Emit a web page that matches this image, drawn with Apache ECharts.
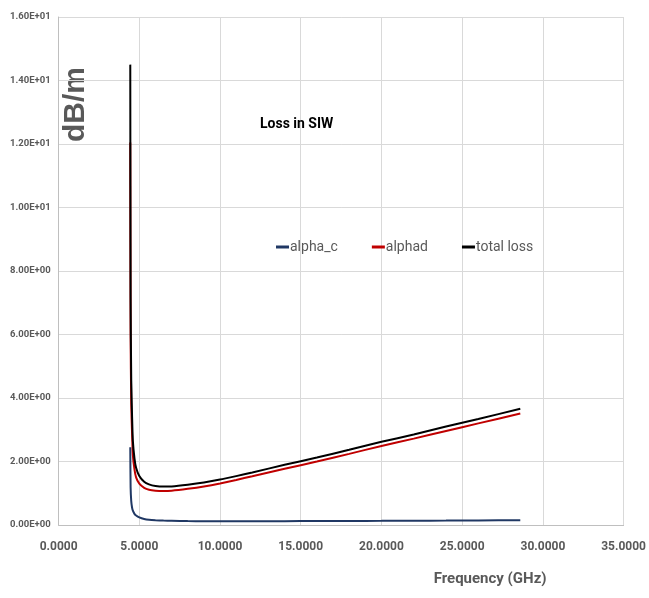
<!DOCTYPE html>
<html>
<head>
<meta charset="utf-8">
<script src="https://cdn.jsdelivr.net/npm/echarts@6/dist/echarts.min.js"></script>
<style>
html,body{margin:0;padding:0;background:#fff;overflow:hidden;}
#c{width:649px;height:598px;}
</style>
</head>
<body>
<div id="c"></div>
<script>
// Frequency points (GHz)
const freq = [4.44, 4.46, 4.5, 4.55, 4.6, 4.7, 4.8, 5.0, 5.3, 5.6, 6.0, 6.5, 7.0, 8.0, 9.0, 10.0, 11.0, 12.0, 14.0, 16.0, 18.0, 20.0, 22.0, 24.0, 26.0, 28.6];
// alpha_c (dB/m)
const alphaC = [2.45, 1.2, 0.75, 0.55, 0.45, 0.35, 0.3, 0.24, 0.19, 0.165, 0.15, 0.14, 0.135, 0.125, 0.12, 0.12, 0.12, 0.12, 0.122, 0.125, 0.128, 0.13, 0.135, 0.14, 0.145, 0.15];
// alphad (dB/m)
const alphaD = [12.05, 6.0, 3.8, 2.9, 2.2, 1.75, 1.5, 1.3, 1.17, 1.11, 1.08, 1.07, 1.08, 1.14, 1.215, 1.31, 1.42, 1.535, 1.77, 2.0, 2.24, 2.49, 2.72, 2.96, 3.2, 3.51];
// total loss (dB/m)
const totalLoss = [14.5, 7.2, 4.55, 3.45, 2.65, 2.1, 1.8, 1.54, 1.36, 1.28, 1.23, 1.21, 1.215, 1.27, 1.34, 1.43, 1.54, 1.655, 1.895, 2.125, 2.37, 2.62, 2.85, 3.1, 3.34, 3.66];

const seriesNames = ['alpha_c', 'alphad', 'total loss'];
const seriesColors = ['#203864', '#C00000', '#000000'];
const seriesValues = [alphaC, alphaD, totalLoss];

function fmtY(v) {
  if (v === 0) return '0.00E+00';
  const e = Math.floor(Math.log10(Math.abs(v)) + 1e-9);
  const m = v / Math.pow(10, e);
  const es = (e < 0 ? '-' : '+') + String(Math.abs(e)).padStart(2, '0');
  return m.toFixed(2) + 'E' + es;
}

const font = 'Roboto, "Liberation Sans", Arial, sans-serif';
const chart = echarts.init(document.getElementById('c'), null, {renderer: 'canvas', width: 649, height: 598});
chart.setOption({
  animation: false,
  backgroundColor: '#fff',
  title: {
    text: 'Loss in SIW',
    left: 255, top: 112,
    textStyle: {fontFamily: font, fontSize: 14, fontWeight: 'bold', color: '#000'}
  },
  legend: {
    data: seriesNames,
    left: 271, top: 235,
    itemWidth: 13, itemHeight: 3, itemGap: 34,
    icon: 'rect',
    textStyle: {fontFamily: font, fontSize: 14, color: '#595959', padding: [0,0,0,-4]}
  },
  grid: {left: 58.6, right: 21, top: 17, bottom: 73, containLabel: false, show: false},
  xAxis: {
    type: 'value', min: 0, max: 35, interval: 5,
    name: 'Frequency (GHz)', nameLocation: 'middle', nameGap: 47,
    nameTextStyle: {fontFamily: font, fontSize: 15, fontWeight: 'bold', color: '#595959', padding: [0,0,0,298]},
    axisLine: {lineStyle: {color: '#bfbfbf'}},
    axisTick: {show: false},
    axisLabel: {formatter: v => v.toFixed(4), fontFamily: font, fontSize: 12, fontWeight: 'bold', color: '#595959', margin: 16},
    splitLine: {show: true, lineStyle: {color: '#d9d9d9'}}
  },
  yAxis: {
    type: 'value', min: 0, max: 16, interval: 2,
    axisLine: {show: true, lineStyle: {color: '#bfbfbf'}},
    axisTick: {show: false},
    axisLabel: {formatter: fmtY, fontFamily: font, fontSize: 9.5, fontWeight: 'bold', color: '#595959', margin: 8},
    splitLine: {show: true, lineStyle: {color: '#d9d9d9'}}
  },
  graphic: [{
    type: 'text', left: 61, top: 67, rotation: Math.PI / 2,
    style: {text: 'dB/m', fontFamily: '"Liberation Sans", Arial, sans-serif', fontSize: 30, fontWeight: 'bold', fill: '#595959'}
  }],
  series: seriesNames.map((n, i) => ({
    name: n, type: 'line', showSymbol: false, smooth: 0.2,
    data: freq.map((f, j) => [f, seriesValues[i][j]]),
    lineStyle: {color: seriesColors[i], width: 2},
    itemStyle: {color: seriesColors[i]},
    z: 2 + i
  }))
});
</script>
</body>
</html>
